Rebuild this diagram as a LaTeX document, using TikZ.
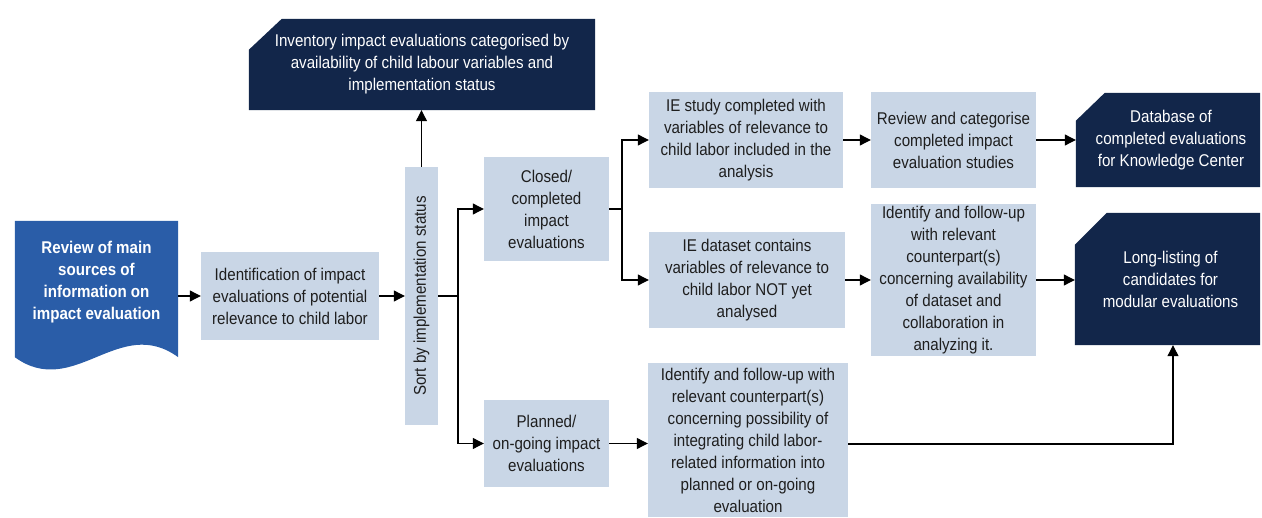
\documentclass[tikz,border=0pt]{standalone}
\usepackage{fontspec}
\setmainfont{Liberation Sans}[FakeStretch=0.89]
\usetikzlibrary{arrows.meta,backgrounds,calc}
\definecolor{navy}{HTML}{12264A}
\definecolor{steel}{HTML}{C9D6E6}
\definecolor{docblue}{HTML}{2A5DA8}
\definecolor{ink}{HTML}{1E1E1E}
\begin{document}
\begin{tikzpicture}[x=1pt,y=-1pt,
  every node/.style={font=\fontsize{17}{22}\selectfont, align=center, inner sep=0pt},
  box/.style={rectangle, fill=steel, text=ink},
  card/.style={rectangle, text=white},
  arr/.style={-{Triangle[length=11pt,width=11pt]}, line width=1.1pt},
  link/.style={line width=1.1pt}]
\useasboundingbox (0,0) rectangle (1262,518);

% source document
\node[minimum width=163, minimum height=136] (doc) at (96.5,289) {};
\fill[docblue] (doc.south west) -- (doc.north west) -- (doc.north east) -- (doc.south east)
  .. controls (119,314) and (74,400) .. (doc.south west) -- cycle;
\node[text=white, font=\fontsize{17}{22}\selectfont\bfseries] (doctext) at (96.5,282)
  {Review of main\\sources of\\information on\\impact evaluation};

% process boxes
\node[box, minimum width=178, minimum height=88] (ident) at (290,296)
  {Identification of impact\\evaluations of potential\\relevance to child labor};
\node[box, minimum width=33, minimum height=258] (sort) at (421.5,296)
  {\rotatebox{90}{Sort by implementation status}};
\node[box, minimum width=125, minimum height=104] (closed) at (546.5,209)
  {Closed/\\completed\\impact\\evaluations};
\node[box, minimum width=125, minimum height=87] (planned) at (546.5,443.5)
  {Planned/\\on-going impact\\evaluations};
\node[box, minimum width=194, minimum height=96] (iestudy) at (746,140)
  {IE study completed with\\variables of relevance to\\child labor included in the\\analysis};
\node[box, minimum width=196, minimum height=96] (iedata) at (747,280)
  {IE dataset contains\\variables of relevance to\\child labor NOT yet\\analysed};
\node[box, minimum width=200, minimum height=154] (follow) at (748,440)
  {Identify and follow-up with\\relevant counterpart(s)\\concerning possibility of\\integrating child labor-\\related information into\\planned or on-going\\evaluation};
\node[box, minimum width=165, minimum height=96] (review) at (953.5,140)
  {Review and categorise\\completed impact\\evaluation studies};
\node[box, minimum width=165, minimum height=152] (identify) at (953.5,280)
  {Identify and follow-up\\with relevant\\counterpart(s)\\concerning availability\\of dataset and\\collaboration in\\analyzing it.};

% output cards
\node[card, minimum width=346, minimum height=91] (inv) at (422,64.5)
  {Inventory impact evaluations categorised by\\availability of child labour variables and\\implementation status};
\node[card, minimum width=184, minimum height=94] (database) at (1168,140)
  {\hspace*{6pt}Database of\\\hspace*{6pt}completed evaluations\\\hspace*{6pt}for Knowledge Center};
\node[card, minimum width=185, minimum height=132] (longlist) at (1167.5,279)
  {\hspace*{6pt}Long-listing of\\\hspace*{6pt}candidates for\\\hspace*{6pt}modular evaluations};

\begin{pgfonlayer}{background}
  \fill[navy] (inv.south west) -- ($(inv.north west)+(0,31)$) -- ($(inv.north west)+(33,0)$)
    -- (inv.north east) -- (inv.south east) -- cycle;
  \fill[navy] (database.south west) -- ($(database.north west)+(0,28)$) -- ($(database.north west)+(29,0)$)
    -- (database.north east) -- (database.south east) -- cycle;
  \fill[navy] (longlist.south west) -- ($(longlist.north west)+(0,32)$) -- ($(longlist.north west)+(32,0)$)
    -- (longlist.north east) -- (longlist.south east) -- cycle;
\end{pgfonlayer}

% connectors
\coordinate (split1) at (458,296);
\coordinate (split2) at (622,209);
\coordinate (bend) at (1173,444);
\draw[arr] (doc.east |- ident.west) -- (ident.west);
\draw[arr] (ident.east) -- (sort.west);
\draw[arr] (sort.north) -- (sort.north |- inv.south);
\draw[link] (sort.east) -- (split1);
\draw[arr] (split1) |- (closed.west);
\draw[arr] (split1) |- (planned.west);
\draw[link] (closed.east) -- (split2);
\draw[arr] (split2) |- (iestudy.west);
\draw[arr] (split2) |- (iedata.west);
\draw[arr] (iestudy.east) -- (review.west |- iestudy.east);
\draw[arr] (iedata.east) -- (identify.west |- iedata.east);
\draw[arr] (review.east) -- (database.west |- review.east);
\draw[arr] (identify.east) -- (longlist.west |- identify.east);
\draw[arr] (planned.east) -- (follow.west |- planned.east);
\draw[arr] (follow.east |- bend) -- (bend) -- (bend |- longlist.south);
\end{tikzpicture}
\end{document}
